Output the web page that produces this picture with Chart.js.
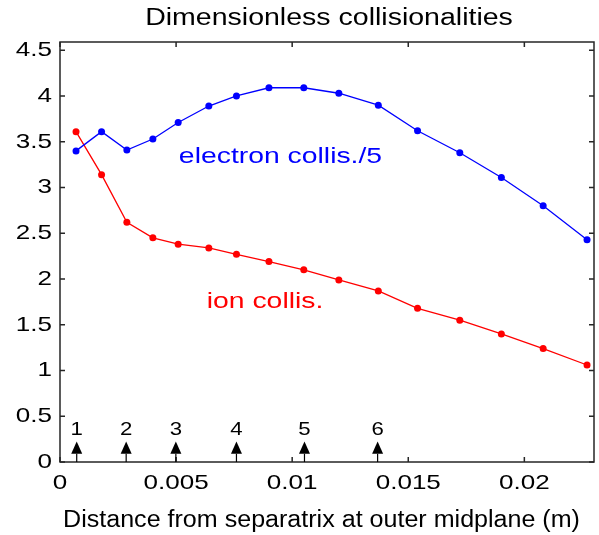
<!DOCTYPE html>
<html>
<head>
<meta charset="utf-8">
<script src="https://cdn.jsdelivr.net/npm/chart.js@4.4.1/dist/chart.umd.min.js"></script>
<style>
  html, body { margin: 0; padding: 0; background: #fff; }
  #collChart { display: block; }
</style>
</head>
<body>
<canvas id="collChart" width="599" height="535"></canvas>
<script>
// distance from separatrix (m) of each sample
const distance = [0.00069, 0.00179, 0.00288, 0.00400, 0.00509, 0.00641, 0.00760, 0.00900,
                  0.01050, 0.01201, 0.01371, 0.01540, 0.01722, 0.01901, 0.02081, 0.02270];
const electronCollis = [3.40, 3.61, 3.41, 3.53, 3.71, 3.89, 4.00, 4.09,
                        4.09, 4.03, 3.90, 3.62, 3.38, 3.11, 2.80, 2.43];
const ionCollis = [3.61, 3.14, 2.62, 2.45, 2.38, 2.34, 2.27, 2.19,
                   2.10, 1.99, 1.87, 1.68, 1.55, 1.40, 1.24, 1.06];

// numbered markers along the bottom
const probeLabels = ['1', '2', '3', '4', '5', '6'];
const probePositions = [0.00072, 0.00285, 0.00499, 0.00760, 0.01053, 0.01368];

const xTicks = [0, 0.005, 0.01, 0.015, 0.02];
const xTickLabels = ['0', '0.005', '0.01', '0.015', '0.02'];
const yTicks = [0, 0.5, 1, 1.5, 2, 2.5, 3, 3.5, 4, 4.5];
const yTickLabels = ['0', '0.5', '1', '1.5', '2', '2.5', '3', '3.5', '4', '4.5'];

const FONT = '"Liberation Sans", Arial, sans-serif';

// text with a horizontal stretch factor sx
function wideText(ctx, str, x, y, size, sx, align, baseline, color) {
  ctx.save();
  ctx.translate(x, y);
  ctx.scale(sx, 1);
  ctx.font = size + 'px ' + FONT;
  ctx.textAlign = align;
  ctx.textBaseline = baseline;
  ctx.fillStyle = color;
  ctx.fillText(str, 0, 0);
  ctx.restore();
}

const toPoints = (ys) => distance.map((x, i) => ({ x: x, y: ys[i] }));

// axes box with inward ticks, drawn under the lines
const framePlugin = {
  id: 'frame',
  beforeDatasetsDraw(chart) {
    const { ctx, chartArea: a, scales: { x, y } } = chart;
    ctx.save();
    ctx.strokeStyle = '#262626';
    ctx.lineWidth = 1.5;
    ctx.strokeRect(a.left, a.top, a.right - a.left, a.bottom - a.top);
    ctx.beginPath();
    xTicks.forEach(v => {
      const px = x.getPixelForValue(v);
      ctx.moveTo(px, a.bottom); ctx.lineTo(px, a.bottom - 5);
      ctx.moveTo(px, a.top); ctx.lineTo(px, a.top + 5);
    });
    yTicks.forEach(v => {
      const py = y.getPixelForValue(v);
      ctx.moveTo(a.left, py); ctx.lineTo(a.left + 5, py);
      ctx.moveTo(a.right, py); ctx.lineTo(a.right - 5, py);
    });
    ctx.stroke();
    ctx.restore();
  },
  afterDatasetsDraw(chart) {
    const { ctx, chartArea: a, scales: { x, y } } = chart;

    xTicks.forEach((v, i) => wideText(ctx, xTickLabels[i], x.getPixelForValue(v), a.bottom + 11, 21, 1.24, 'center', 'top', '#000'));
    yTicks.forEach((v, i) => wideText(ctx, yTickLabels[i], a.left - 8, y.getPixelForValue(v), 21, 1.24, 'right', 'middle', '#000'));

    wideText(ctx, 'Dimensionless collisionalities', 329, 25, 23, 1.24, 'center', 'alphabetic', '#000');
    wideText(ctx, 'Distance from separatrix at outer midplane (m)', 321.5, 527, 23, 1.09, 'center', 'alphabetic', '#000');

    wideText(ctx, 'electron collis./5', x.getPixelForValue(0.00512), y.getPixelForValue(3.27), 22.5, 1.26, 'left', 'alphabetic', '#0000ff');
    wideText(ctx, 'ion collis.', x.getPixelForValue(0.00632), y.getPixelForValue(1.684), 22.5, 1.26, 'left', 'alphabetic', '#ff0000');

    // arrows pointing up from the axis
    ctx.save();
    ctx.fillStyle = '#000';
    ctx.strokeStyle = '#000';
    ctx.lineWidth = 1.2;
    probePositions.forEach((v, i) => {
      const px = x.getPixelForValue(v);
      const tip = y.getPixelForValue(0.225);
      const base = y.getPixelForValue(0.09);
      ctx.beginPath();
      ctx.moveTo(px, a.bottom);
      ctx.lineTo(px, base);
      ctx.stroke();
      ctx.beginPath();
      ctx.moveTo(px, tip);
      ctx.lineTo(px - 5.5, base);
      ctx.lineTo(px + 5.5, base);
      ctx.closePath();
      ctx.fill();
      wideText(ctx, probeLabels[i], px, tip - 6, 18.5, 1.2, 'center', 'alphabetic', '#000');
    });
    ctx.restore();
  }
};

new Chart(document.getElementById('collChart').getContext('2d'), {
  type: 'scatter',
  data: {
    datasets: [{
      label: 'electron collis./5',
      data: toPoints(electronCollis),
      showLine: true,
      borderColor: '#0000ff',
      backgroundColor: '#0000ff',
      borderWidth: 1.3,
      pointRadius: 3.5,
      pointBorderWidth: 0
    }, {
      label: 'ion collis.',
      data: toPoints(ionCollis),
      showLine: true,
      borderColor: '#ff0000',
      backgroundColor: '#ff0000',
      borderWidth: 1.3,
      pointRadius: 3.5,
      pointBorderWidth: 0
    }]
  },
  options: {
    responsive: false,
    animation: false,
    layout: { padding: { left: 60, right: 5, top: 42, bottom: 73 } },
    plugins: {
      legend: { display: false },
      tooltip: { enabled: false }
    },
    scales: {
      x: { type: 'linear', min: 0, max: 0.023, display: false },
      y: { type: 'linear', min: 0, max: 4.59, display: false }
    }
  },
  plugins: [framePlugin]
});
</script>
</body>
</html>
